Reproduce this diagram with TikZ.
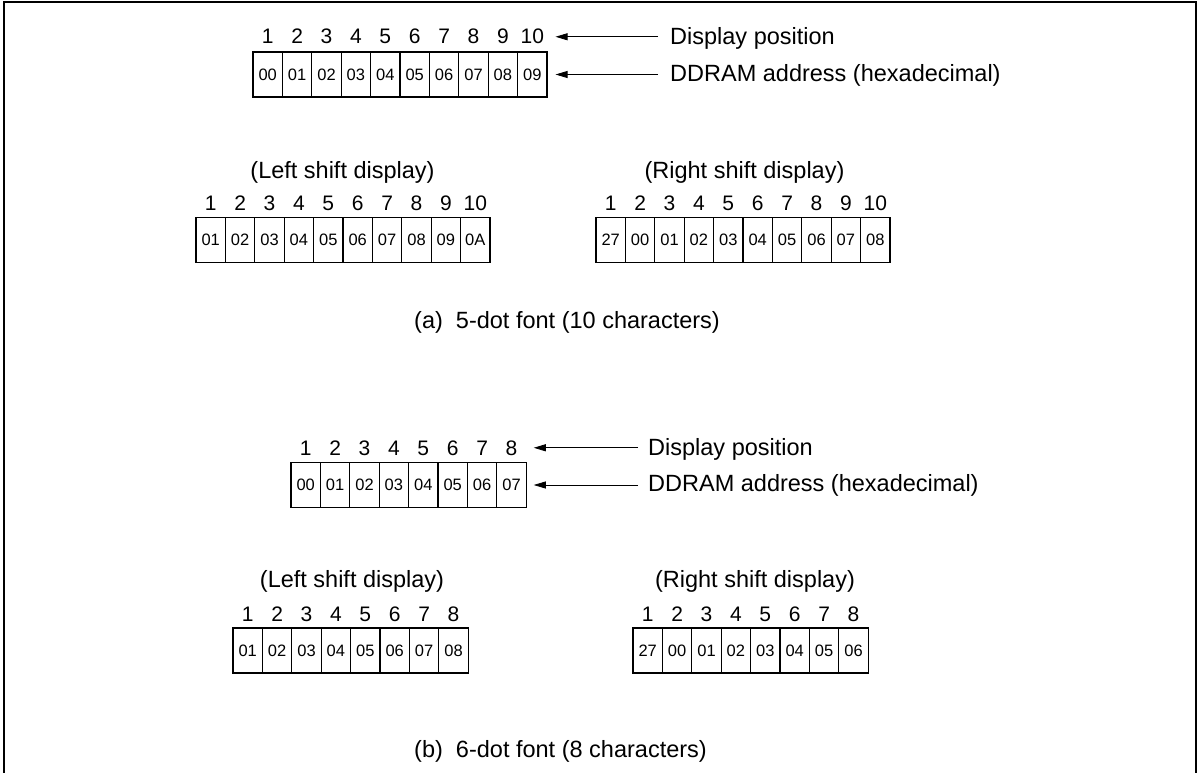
\documentclass[tikz,border=0pt]{standalone}
\usepackage{fontspec}
\setmainfont{Liberation Sans}
\usetikzlibrary{arrows.meta}

\tikzset{
  cell/.style={draw, line width=1.1pt, minimum width=29.4pt, minimum height=45pt,
    inner sep=0pt, font=\fontsize{16.5}{18}\selectfont},
  num/.style={inner sep=0pt, anchor=base, font=\fontsize{21}{24}\selectfont},
  lbl/.style={inner sep=0pt, font=\fontsize{23.5}{28}\selectfont},
  ptr/.style={-{Triangle[length=12pt,width=7pt]}, line width=0.8pt},
}

\begin{document}
\begin{tikzpicture}[x=1pt, y=-1pt]
\useasboundingbox (0,0) rectangle (1204,773);
\draw[line width=2pt] (4,773) -- (4,2) -- (1196,2) -- (1196,773);

% (a) 5-dot font: 10 display positions
\foreach \v [count=\i] in {00,01,02,03,04,05,06,07,08,09} {
  \node[cell] (addrA\i) at ({253+(\i-0.5)*29.4}, 74.5) {\v};
  \node[num] (posA\i) at ({253+(\i-0.5)*29.4}, 44) {\i};
}
\node[lbl, anchor=base west] (dispA) at (670,45) {Display position};
\node[lbl, anchor=base west] (ddrA) at (670,81.5) {DDRAM address (hexadecimal)};
\draw[ptr, shorten <=12pt, shorten >=8pt] (dispA.west |- posA10.center) -- (addrA10.east |- posA10.center);
\draw[ptr, shorten <=12pt, shorten >=8pt] (ddrA.west |- addrA10) -- (addrA10.east);

\node[lbl, anchor=base] (leftA) at (342.5,178.3) {(Left shift display)};
\foreach \v [count=\i] in {01,02,03,04,05,06,07,08,09,0A} {
  \node[cell] (leftA\i) at ({196+(\i-0.5)*29.4}, 240) {\v};
  \node[num] (leftposA\i) at ({196+(\i-0.5)*29.4}, 210) {\i};
}
\node[lbl, anchor=base] (rightA) at (744.5,178.3) {(Right shift display)};
\foreach \v [count=\i] in {27,00,01,02,03,04,05,06,07,08} {
  \node[cell] (rightA\i) at ({596+(\i-0.5)*29.4}, 240) {\v};
  \node[num] (rightposA\i) at ({596+(\i-0.5)*29.4}, 210) {\i};
}
\node[lbl, anchor=base] (capA) at (567,328) {(a)~~5-dot font (10 characters)};

% (b) 6-dot font: 8 display positions
\foreach \v [count=\i] in {00,01,02,03,04,05,06,07} {
  \node[cell] (addrB\i) at ({291+(\i-0.5)*29.4}, 485) {\v};
  \node[num] (posB\i) at ({291+(\i-0.5)*29.4}, 455) {\i};
}
\node[lbl, anchor=base west] (dispB) at (648,455.7) {Display position};
\node[lbl, anchor=base west] (ddrB) at (648,491) {DDRAM address (hexadecimal)};
\draw[ptr, shorten <=10pt, shorten >=7pt] (dispB.west |- posB8.center) -- (addrB8.east |- posB8.center);
\draw[ptr, shorten <=10pt, shorten >=7pt] (ddrB.west |- addrB8) -- (addrB8.east);

\node[lbl, anchor=base] (leftB) at (352,587.3) {(Left shift display)};
\foreach \v [count=\i] in {01,02,03,04,05,06,07,08} {
  \node[cell] (leftB\i) at ({233+(\i-0.5)*29.4}, 650.5) {\v};
  \node[num] (leftposB\i) at ({233+(\i-0.5)*29.4}, 621) {\i};
}
\node[lbl, anchor=base] (rightB) at (755,587.3) {(Right shift display)};
\foreach \v [count=\i] in {27,00,01,02,03,04,05,06} {
  \node[cell] (rightB\i) at ({633+(\i-0.5)*29.4}, 650.5) {\v};
  \node[num] (rightposB\i) at ({633+(\i-0.5)*29.4}, 621) {\i};
}
\node[lbl, anchor=base] (capB) at (560.5,757) {(b)~~6-dot font (8 characters)};
\end{tikzpicture}
\end{document}
